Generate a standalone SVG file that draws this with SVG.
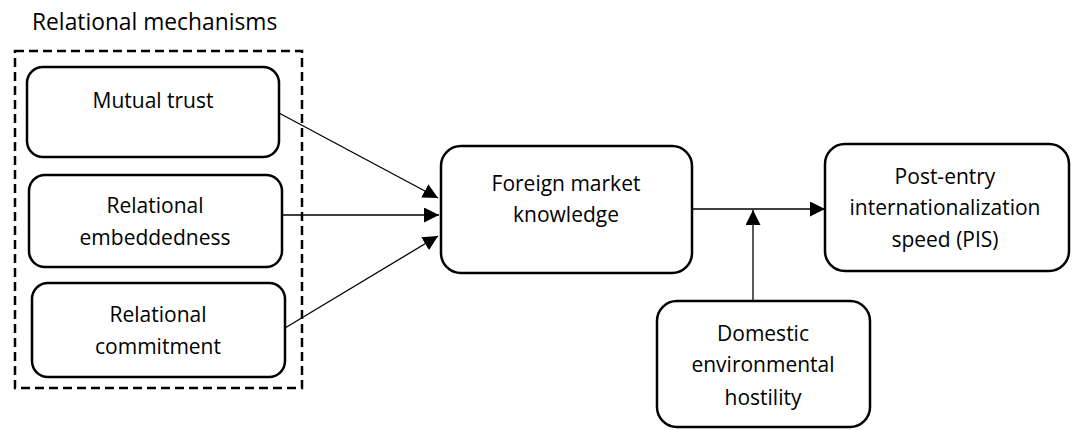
<svg xmlns="http://www.w3.org/2000/svg" width="1075" height="430" viewBox="0 0 1075 430">
<defs>
<style>
.node{fill:#fff;stroke:#000;stroke-width:2.5}
.lbl{font-family:"Open Sans","Liberation Sans",sans-serif;font-size:21px;fill:#000;text-anchor:middle}
.title{font-family:"Open Sans","Liberation Sans",sans-serif;font-size:22.8px;fill:#000}
.edge{fill:none;stroke:#000;stroke-width:1.3}
</style>
<marker id="ah" viewBox="0 0 10 10" refX="10" refY="5" markerWidth="15" markerHeight="15" markerUnits="userSpaceOnUse" orient="auto">
<path d="M0,0 L10,5 L0,10 Z" fill="#000"/>
</marker>
</defs>
<text class="title" x="32" y="30">Relational mechanisms</text>
<rect id="group-box" x="15" y="51" width="287" height="337" fill="none" stroke="#000" stroke-width="2.5" stroke-dasharray="9,5"/>
<g id="mutual-trust">
<rect class="node" x="27" y="67" width="252" height="90" rx="16"/>
<text class="lbl" x="153" y="108">Mutual trust</text>
</g>
<g id="relational-embeddedness">
<rect class="node" x="29" y="175" width="253" height="92" rx="16"/>
<text class="lbl" x="155" y="213">Relational</text>
<text class="lbl" x="155" y="245">embeddedness</text>
</g>
<g id="relational-commitment">
<rect class="node" x="32" y="283" width="253" height="94" rx="16"/>
<text class="lbl" x="158" y="322">Relational</text>
<text class="lbl" x="158" y="354">commitment</text>
</g>
<g id="foreign-market-knowledge">
<rect class="node" x="441" y="146" width="251" height="127" rx="20"/>
<text class="lbl" x="566" y="191">Foreign market</text>
<text class="lbl" x="566" y="222">knowledge</text>
</g>
<g id="pis">
<rect class="node" x="825" y="144" width="244" height="127" rx="20"/>
<text class="lbl" x="945" y="184">Post-entry</text>
<text class="lbl" x="945" y="215">internationalization</text>
<text class="lbl" x="945" y="247">speed (PIS)</text>
</g>
<g id="domestic-hostility">
<rect class="node" x="657" y="301" width="213" height="126" rx="20"/>
<text class="lbl" x="763" y="341">Domestic</text>
<text class="lbl" x="763" y="372">environmental</text>
<text class="lbl" x="763" y="405">hostility</text>
</g>
<g id="connectors">
<line class="edge" x1="279" y1="113" x2="438" y2="198" marker-end="url(#ah)"/>
<line class="edge" x1="282" y1="215" x2="439" y2="215" marker-end="url(#ah)"/>
<line class="edge" x1="285" y1="328" x2="438" y2="236" marker-end="url(#ah)"/>
<line class="edge" x1="692" y1="209" x2="825" y2="209" marker-end="url(#ah)"/>
<line class="edge" x1="753" y1="301" x2="753" y2="210" marker-end="url(#ah)"/>
</g>
</svg>
